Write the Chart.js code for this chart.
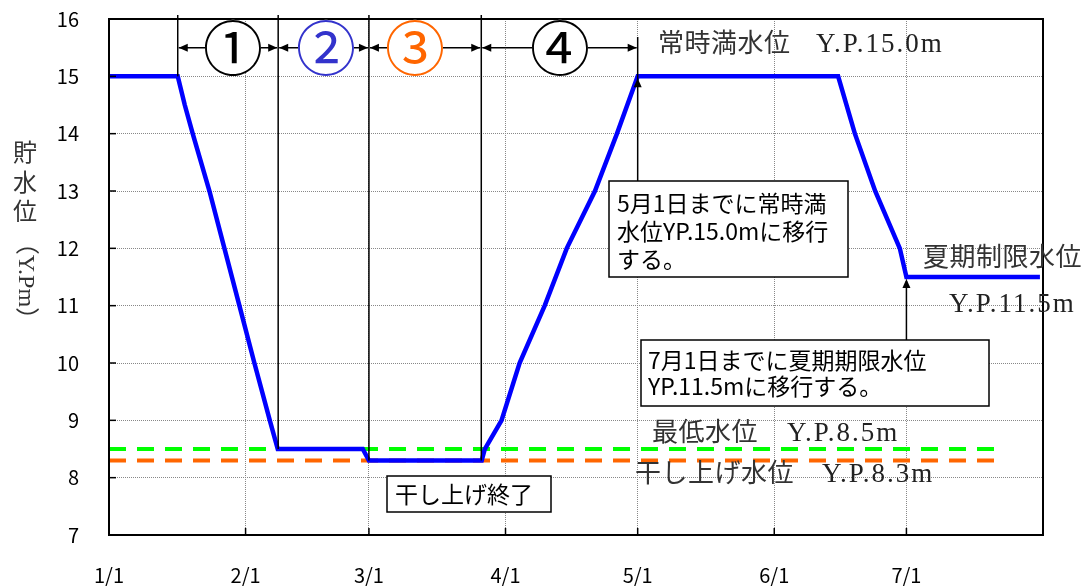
<!DOCTYPE html>
<html>
<head>
<meta charset="UTF-8">
<title>貯水位の推移</title>
<style>
body {
	margin: 0;
	background: #fff;
}
.chart-container {
	width: 1087px;
	height: 586px;
}
</style>
<script src="https://cdn.jsdelivr.net/npm/chart.js"></script>
</head>
<body>
	<div class="chart-container">
		<canvas id="level-chart"></canvas>
	</div>

	<script>
		// x軸は 1/1 からの経過日数
		const monthLabels = ['1/1', '2/1', '3/1', '4/1', '5/1', '6/1', '7/1'];
		const monthDays = [0, 31, 59, 90, 120, 151, 181];
		const endDay = 212;

		// 貯水位（Y.P.m）
		const levelDays = [0, 15.6, 17.2, 19, 22.8, 26.2, 29.6, 33, 36.5, 38.3, 57.6, 59, 84.6, 85.3, 89.1, 93.2, 98.9, 103.9, 110.3, 115.3, 120, 165.5, 169.3, 173.9, 179.5, 181, 211.3];
		const levels = [15, 15, 14.5, 14, 13, 12, 11, 10, 9, 8.5, 8.5, 8.3, 8.3, 8.5, 9, 10, 11, 12, 13, 14, 15, 15, 14, 13, 12, 11.5, 11.5];

		// 最低水位・干し上げ水位
		const guideDays = [0, 201];
		const minLevel = [8.5, 8.5];
		const dryLevel = [8.3, 8.3];

		// 区間の境目（日）
		const stageDays = [15.6, 38.4, 59, 84.5, 120];

		const gothic = "'Noto Sans CJK JP', sans-serif";
		const mincho = "'Liberation Serif', 'Noto Sans CJK JP', serif";

		function toPoints(xs, ys) {
			return xs.map((x, i) => ({ x: x, y: ys[i] }));
		}

		function label(ctx, str, x, y, size, family, color, align, spacing) {
			ctx.font = size + 'px ' + family;
			ctx.fillStyle = color;
			ctx.textAlign = align || 'left';
			ctx.textBaseline = 'middle';
			ctx.letterSpacing = (spacing || 0) + 'px';
			ctx.fillText(str, x, y);
			ctx.letterSpacing = '0px';
		}

		function head(ctx, x, y, dir) {
			const L = 9, W = 4;
			ctx.beginPath();
			ctx.moveTo(x, y);
			if (dir === 'left') { ctx.lineTo(x + L, y - W); ctx.lineTo(x + L, y + W); }
			if (dir === 'right') { ctx.lineTo(x - L, y - W); ctx.lineTo(x - L, y + W); }
			if (dir === 'up') { ctx.lineTo(x - W, y + L); ctx.lineTo(x + W, y + L); }
			ctx.closePath();
			ctx.fill();
		}

		function line(ctx, x1, y1, x2, y2) {
			ctx.beginPath();
			ctx.moveTo(x1, y1);
			ctx.lineTo(x2, y2);
			ctx.stroke();
		}

		function box(ctx, x, y, w, h) {
			ctx.fillStyle = '#fff';
			ctx.fillRect(x, y, w, h);
			ctx.strokeRect(x, y, w, h);
		}

		const annotations = {
			id: 'annotations',
			afterDraw(chart) {
				const ctx = chart.ctx;
				const a = chart.chartArea;
				const sx = chart.scales.x, sy = chart.scales.y;
				ctx.save();
				ctx.strokeStyle = '#000';
				ctx.fillStyle = '#000';

				// 枠と内向き目盛
				ctx.lineWidth = 2;
				ctx.strokeRect(a.left, a.top, a.right - a.left, a.bottom - a.top);
				ctx.lineWidth = 1.5;
				for (let v = 8; v < 16; v++) {
					const py = sy.getPixelForValue(v);
					line(ctx, a.left, py, a.left + 7, py);
				}
				monthDays.forEach(d => {
					const px = sx.getPixelForValue(d);
					line(ctx, px, a.bottom, px, a.bottom - 7);
				});

				// 区間の境目
				ctx.lineWidth = 1.5;
				const ends = [15, 8.5, 8.3, 8.3];
				for (let i = 0; i < 4; i++) {
					const px = sx.getPixelForValue(stageDays[i]);
					line(ctx, px, a.top - 4, px, sy.getPixelForValue(ends[i]));
				}
				const p5 = sx.getPixelForValue(stageDays[4]);
				line(ctx, p5, 37, p5, 181);
				head(ctx, p5, sy.getPixelForValue(15) + 2, 'up');

				// 区間の矢印と番号
				const ay = sy.getPixelForValue(15.5);
				const marks = [
					{ t: '①', c: '#000', x: 233 },
					{ t: '②', c: '#3333cc', x: 326 },
					{ t: '③', c: '#ff6600', x: 415 },
					{ t: '④', c: '#000', x: 560 }
				];
				for (let i = 0; i < 4; i++) {
					const x1 = sx.getPixelForValue(stageDays[i]) + 1;
					const x2 = sx.getPixelForValue(stageDays[i + 1]) - 1;
					ctx.fillStyle = '#000';
					line(ctx, x1, ay, x2, ay);
					head(ctx, x1, ay, 'left');
					head(ctx, x2, ay, 'right');
					ctx.beginPath();
					ctx.fillStyle = '#fff';
					ctx.arc(marks[i].x, ay, 28, 0, Math.PI * 2);
					ctx.fill();
					label(ctx, marks[i].t, marks[i].x, ay + 1, 60, gothic, marks[i].c, 'center');
				}

				// 水位ラベル
				label(ctx, '常時満水位', 658, 45, 26, mincho, '#333', 'left', 0.5);
				label(ctx, 'Y.P.15.0m', 816, 45, 27, mincho, '#222', 'left', 2);
				label(ctx, '夏期制限水位', 923, 259, 26, mincho, '#333', 'left', 0.5);
				label(ctx, 'Y.P.11.5m', 949, 305, 27, mincho, '#222', 'left', 2);
				label(ctx, '最低水位', 652, 434, 26, mincho, '#333', 'left', 0.5);
				label(ctx, 'Y.P.8.5m', 787, 434, 27, mincho, '#222', 'left', 2);
				label(ctx, '干し上げ水位', 635, 475, 26, mincho, '#333', 'left', 0.5);
				label(ctx, 'Y.P.8.3m', 822, 475, 27, mincho, '#222', 'left', 2);

				// 説明の枠
				ctx.strokeStyle = '#000';
				ctx.lineWidth = 1.5;
				box(ctx, 609, 181, 239, 96);
				label(ctx, '5月1日までに常時満', 617, 203, 23, gothic, '#000');
				label(ctx, '水位YP.15.0mに移行', 617, 231, 23, gothic, '#000');
				label(ctx, 'する。', 617, 259, 23, gothic, '#000');

				const p7 = sx.getPixelForValue(181);
				ctx.fillStyle = '#000';
				line(ctx, p7, 340, p7, sy.getPixelForValue(11.5) + 4);
				head(ctx, p7, sy.getPixelForValue(11.5) + 2, 'up');
				box(ctx, 641, 340, 348, 66);
				label(ctx, '7月1日までに夏期期限水位', 648, 360, 23, gothic, '#000');
				label(ctx, 'YP.11.5mに移行する。', 648, 386, 23, gothic, '#000');

				box(ctx, 387, 476, 164, 36);
				label(ctx, '干し上げ終了', 395, 494, 23, gothic, '#000');

				// y軸タイトル（縦書き）
				label(ctx, '貯', 25, 155, 24, mincho, '#333', 'center');
				label(ctx, '水', 25, 185, 24, mincho, '#333', 'center');
				label(ctx, '位', 25, 214, 24, mincho, '#333', 'center');
				ctx.translate(25, 281);
				ctx.rotate(Math.PI / 2);
				label(ctx, '（Y.Pm）', 0, 0, 24, mincho, '#333', 'center');
				ctx.restore();
			}
		};

		const config = {
			type: 'line',
			data: {
				datasets: [
					{
						data: toPoints(levelDays, levels),
						borderColor: '#0000ff',
						borderWidth: 4.5,
						pointRadius: 0,
						tension: 0,
						order: 0
					},
					{
						data: toPoints(guideDays, minLevel),
						borderColor: '#00ff00',
						borderWidth: 4,
						borderDash: [17, 11],
						pointRadius: 0,
						order: 1
					},
					{
						data: toPoints(guideDays, dryLevel),
						borderColor: '#ff6600',
						borderWidth: 4,
						borderDash: [17, 11],
						pointRadius: 0,
						order: 1
					}
				]
			},
			options: {
				responsive: true,
				maintainAspectRatio: false,
				animation: false,
				layout: {
					autoPadding: false,
					padding: { top: 19, right: 44, left: 0, bottom: 0 }
				},
				plugins: {
					legend: { display: false },
					tooltip: { enabled: false }
				},
				scales: {
					x: {
						type: 'linear',
						min: 0,
						max: endDay,
						afterBuildTicks: scale => {
							scale.ticks = monthDays.map(d => ({ value: d }));
						},
						afterFit: scale => {
							scale.height = 51;
							scale.paddingLeft = 0;
							scale.paddingRight = 0;
						},
						ticks: {
							autoSkip: false,
							maxRotation: 0,
							padding: 28,
							color: '#000',
							font: { family: gothic, size: 20 },
							callback: (v, i) => monthLabels[i]
						},
						grid: { color: '#888', lineWidth: 1, drawTicks: false },
						border: { display: false, dash: [1, 1] }
					},
					y: {
						min: 7,
						max: 16,
						afterFit: scale => {
							scale.width = 109;
							scale.paddingTop = 0;
							scale.paddingBottom = 0;
						},
						ticks: {
							stepSize: 1,
							padding: 30,
							color: '#000',
							font: { family: gothic, size: 20 }
						},
						grid: { color: '#888', lineWidth: 1, drawTicks: false },
						border: { display: false, dash: [1, 1] }
					}
				}
			},
			plugins: [annotations]
		};

		new Chart(document.querySelector('#level-chart'), config);
	</script>
</body>
</html>
